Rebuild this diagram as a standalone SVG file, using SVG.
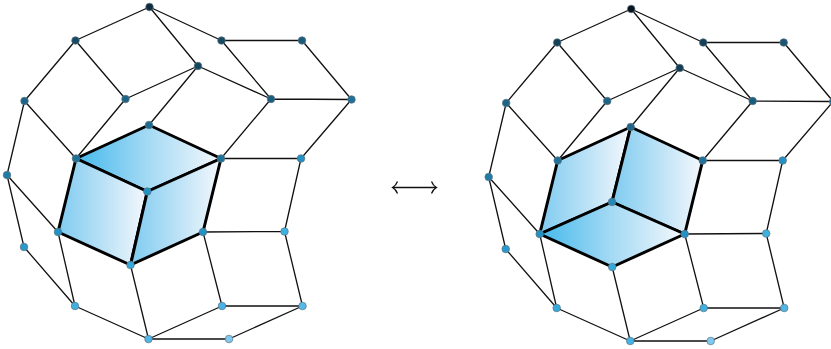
<svg xmlns="http://www.w3.org/2000/svg" width="831" height="349" viewBox="0 0 831 349">
<style>
.e{fill:none;stroke:#111;stroke-width:1.3}
.b{stroke:#000;stroke-width:3;stroke-linejoin:round}
.t{fill:url(#g)}
.s{fill:url(#h)}
.n circle{r:3.8px;stroke:#5f7480;stroke-width:.7}
</style>
<defs>
<linearGradient id="g" x1="0" x2="1" y1="0" y2="0"><stop offset="0" stop-color="#45b9ec"/><stop offset=".5" stop-color="#a5daf4"/><stop offset="1" stop-color="#f5f8fc"/></linearGradient>
<linearGradient id="h" x1="0" x2="1" y1="0" y2="0"><stop offset="0" stop-color="#7fcbf0"/><stop offset=".5" stop-color="#b9e1f6"/><stop offset="1" stop-color="#f5f8fc"/></linearGradient>
</defs>
<g id="faces-left">
<path class="b t" d="M76 158.5L149 125L221 158.5L147.3 191.5Z"/>
<path class="b s" d="M76 158.5L147.3 191.5L130.5 265L58 232Z"/>
<path class="b s" d="M147.3 191.5L221 158.5L203 232L130.5 265Z"/>
</g>
<g id="faces-right">
<path class="b s" d="M557.7 160.5L630.7 127L612 202L539.7 234Z"/>
<path class="b s" d="M630.7 127L702.7 160.5L684.7 234L612 202Z"/>
<path class="b t" d="M539.7 234L612 202L684.7 234L612.2 267Z"/>
</g>
<g id="connectors">
<path class="e" d="M149.5 7L75.5 40.5M149.5 7L198 66M149.5 7L221.5 40.5M75.5 40.5L24.5 101M75.5 40.5L125.5 99M221.5 40.5L302 40.5M221.5 40.5L271 99M302 40.5L351.5 99.5M198 66L125.5 99M198 66L271 99M198 66L149 125M24.5 101L76 158.5M24.5 101L7 175M125.5 99L76 158.5M271 99L351.5 99.5M271 99L221 158.5M351.5 99.5L301 158.5M221 158.5L301 158.5M301 158.5L284.5 231.5M7 175L58 232M7 175L24 247M24 247L75 306M58 232L75 306M130.5 265L148.5 339M75 306L148.5 339M203 232L284.5 231.5M203 232L222 306M284.5 231.5L302.5 306M222 306L302.5 306M222 306L148.5 339M302.5 306L229 339M148.5 339L229 339"/>
<path class="e" d="M631.2 9L557.2 42.5M631.2 9L679.7 68M631.2 9L703.2 42.5M557.2 42.5L506.2 103M557.2 42.5L607.2 101M703.2 42.5L783.7 42.5M703.2 42.5L752.7 101M783.7 42.5L833.2 101.5M679.7 68L607.2 101M679.7 68L752.7 101M679.7 68L630.7 127M506.2 103L557.7 160.5M506.2 103L488.7 177M607.2 101L557.7 160.5M752.7 101L833.2 101.5M752.7 101L702.7 160.5M833.2 101.5L782.7 160.5M702.7 160.5L782.7 160.5M782.7 160.5L766.2 233.5M488.7 177L539.7 234M488.7 177L505.7 249M505.7 249L556.7 308M539.7 234L556.7 308M612.2 267L630.2 341M556.7 308L630.2 341M684.7 234L766.2 233.5M684.7 234L703.7 308M766.2 233.5L784.2 308M703.7 308L784.2 308M703.7 308L630.2 341M784.2 308L710.7 341M630.2 341L710.7 341"/>
<path id="exchange-arrow" class="e" d="M392.5 187.5H436.5M397.5 181.5Q396 185.5 392.5 187.5Q396 189.5 397.5 193.5M431.5 181.5Q433 185.5 436.5 187.5Q433 189.5 431.5 193.5"/>
</g>
<g class="n">
<g id="l1"><circle cx="149.5" cy="7" fill="#0f2b40"/></g>
<g id="l2"><circle cx="75.5" cy="40.5" fill="#174a63"/></g>
<g id="l3"><circle cx="221.5" cy="40.5" fill="#174a63"/></g>
<g id="l4"><circle cx="302" cy="40.5" fill="#1b5c7c"/></g>
<g id="l5"><circle cx="198" cy="66" fill="#154660"/></g>
<g id="l6"><circle cx="24.5" cy="101" fill="#1d6487"/></g>
<g id="l7"><circle cx="125.5" cy="99" fill="#1d6487"/></g>
<g id="l8"><circle cx="271" cy="99" fill="#1a5c7e"/></g>
<g id="l9"><circle cx="351.5" cy="99.5" fill="#1f7099"/></g>
<g id="l10"><circle cx="149" cy="125" fill="#1e6b90"/></g>
<g id="l11"><circle cx="76" cy="158.5" fill="#1f7198"/></g>
<g id="l12"><circle cx="221" cy="158.5" fill="#1f7198"/></g>
<g id="l13"><circle cx="301" cy="158.5" fill="#2590c4"/></g>
<g id="l14"><circle cx="7" cy="175" fill="#1f7ca6"/></g>
<g id="l15"><circle cx="147.3" cy="191.5" fill="#2292c4"/></g>
<g id="l16"><circle cx="58" cy="232" fill="#2292c4"/></g>
<g id="l17"><circle cx="203" cy="232" fill="#2292c4"/></g>
<g id="l18"><circle cx="284.5" cy="231.5" fill="#3fb0e0"/></g>
<g id="l19"><circle cx="24" cy="247" fill="#2799cd"/></g>
<g id="l20"><circle cx="130.5" cy="265" fill="#36a9dc"/></g>
<g id="l21"><circle cx="75" cy="306" fill="#3fb0e0"/></g>
<g id="l22"><circle cx="222" cy="306" fill="#45b3e5"/></g>
<g id="l23"><circle cx="302.5" cy="306" fill="#55bae8"/></g>
<g id="l24"><circle cx="148.5" cy="339" fill="#4fb6e6"/></g>
<g id="l25"><circle cx="229" cy="339" fill="#80caf0"/></g>
<g id="r1"><circle cx="631.2" cy="9" fill="#07141d"/></g>
<g id="r2"><circle cx="557.2" cy="42.5" fill="#144058"/></g>
<g id="r3"><circle cx="703.2" cy="42.5" fill="#144058"/></g>
<g id="r4"><circle cx="783.7" cy="42.5" fill="#1a5676"/></g>
<g id="r5"><circle cx="679.7" cy="68" fill="#123d54"/></g>
<g id="r6"><circle cx="506.2" cy="103" fill="#1d6487"/></g>
<g id="r7"><circle cx="607.2" cy="101" fill="#1d6487"/></g>
<g id="r8"><circle cx="752.7" cy="101" fill="#1a5c7e"/></g>
<g id="r9"><circle cx="833.2" cy="101.5" fill="#1f7099"/></g>
<g id="r10"><circle cx="630.7" cy="127" fill="#1d6487"/></g>
<g id="r11"><circle cx="557.7" cy="160.5" fill="#1f7198"/></g>
<g id="r12"><circle cx="702.7" cy="160.5" fill="#1f7198"/></g>
<g id="r13"><circle cx="782.7" cy="160.5" fill="#2590c4"/></g>
<g id="r14"><circle cx="488.7" cy="177" fill="#1f7ca6"/></g>
<g id="r15"><circle cx="612" cy="202" fill="#2488b6"/></g>
<g id="r16"><circle cx="539.7" cy="234" fill="#2292c4"/></g>
<g id="r17"><circle cx="684.7" cy="234" fill="#2292c4"/></g>
<g id="r18"><circle cx="766.2" cy="233.5" fill="#3fb0e0"/></g>
<g id="r19"><circle cx="505.7" cy="249" fill="#2799cd"/></g>
<g id="r20"><circle cx="612.2" cy="267" fill="#36a9dc"/></g>
<g id="r21"><circle cx="556.7" cy="308" fill="#36a9dc"/></g>
<g id="r22"><circle cx="703.7" cy="308" fill="#3fb0e0"/></g>
<g id="r23"><circle cx="784.2" cy="308" fill="#4fb6e6"/></g>
<g id="r24"><circle cx="630.2" cy="341" fill="#45b3e5"/></g>
<g id="r25"><circle cx="710.7" cy="341" fill="#80caf0"/></g>
</g>
</svg>
